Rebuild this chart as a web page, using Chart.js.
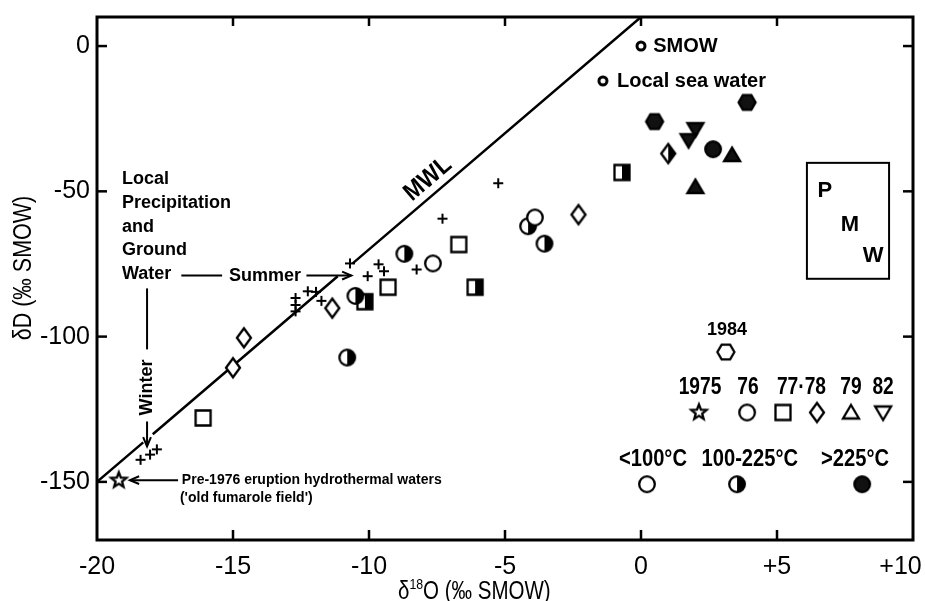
<!DOCTYPE html>
<html>
<head>
<meta charset="utf-8">
<script src="https://cdn.jsdelivr.net/npm/chart.js@4"></script>
<style>
  html, body { margin: 0; padding: 0; background: #fff; }
</style>
</head>
<body>
<canvas id="chart" width="925" height="601"></canvas>
<script>
// δ18O / δD pairs, grouped by sampling year and discharge temperature
const star75X = [-19.2];
const star75Y = [-149.5];

const circ76ColdX = [-3.9, -7.65];
const circ76ColdY = [-59, -74.8];
const circ76WarmX = [-4.15, -3.55, -8.7, -10.5, -10.8];
const circ76WarmY = [-62, -68, -71.5, -86, -107.2];
const circ76HotX = [2.65];
const circ76HotY = [-35.5];

const sq77ColdX = [-6.7, -9.3, -16.1];
const sq77ColdY = [-68.3, -83, -128];
const sq77WarmX = [-6.1, -10.15, -0.7];
const sq77WarmY = [-83, -88, -43.5];

const dia78ColdX = [-2.3, -11.35, -14.6, -15.0];
const dia78ColdY = [-58, -90.2, -100.4, -110.7];
const dia78WarmX = [1.0];
const dia78WarmY = [-37];

const tri79HotX = [3.35, 2.0];
const tri79HotY = [-37.5, -48.5];

const tri82HotX = [2.0, 1.75];
const tri82HotY = [-28.6, -32.4];

const hex84HotX = [0.5, 3.9];
const hex84HotY = [-26, -19.4];

// local precipitation and ground water
const precipX = [-5.25, -7.3, -8.25, -9.65, -9.45, -10.05, -10.7, -12.25, -11.95, -11.75, -12.7, -12.7, -12.7, -18.4, -18.05, -17.8];
const precipY = [-47.2, -59.4, -76.9, -75.1, -77.5, -79.2, -74.8, -84.4, -84.6, -87.7, -86.7, -89.1, -91.3, -142.4, -140.6, -138.8];

// reference waters
const smowX = [0];
const smowY = [0];
const seaX = [-1.4];
const seaY = [-12];

// meteoric water line, broken where labels cross it
const mwlX = [-20, -18.3, -18.1, -17.95, -11.15, -10.9, -10.6, 0];
const mwlY = [-150, -136.4, null, -133.6, -79.2, null, -74.8, 10];

const xTicks = ['-20', '-15', '-10', '-5', '0', '+5', '+10'];
const yTicks = ['-150', '-100', '-50', '0'];

const FONT = '"Liberation Sans", Arial, sans-serif';

function pts(xs, ys) {
  return xs.map((v, i) => ({ x: v, y: ys[i] }));
}

// small canvases used as point styles
function marker(shape, fill) {
  const S = 26;
  const c = document.createElement('canvas');
  c.width = S; c.height = S;
  const g = c.getContext('2d');
  g.translate(S / 2, S / 2);
  g.strokeStyle = '#000';
  g.lineWidth = 2.3;
  g.lineJoin = 'miter';
  const path = () => {
    g.beginPath();
    if (shape === 'circle') g.arc(0, 0, 7.8, 0, Math.PI * 2);
    else if (shape === 'dot') g.arc(0, 0, 4, 0, Math.PI * 2);
    else if (shape === 'square') g.rect(-7.5, -7.5, 15, 15);
    else if (shape === 'diamond') { g.moveTo(0, -9.5); g.lineTo(7, 0); g.lineTo(0, 9.5); g.lineTo(-7, 0); g.closePath(); }
    else if (shape === 'triUp') { g.moveTo(0, -7.5); g.lineTo(8, 6); g.lineTo(-8, 6); g.closePath(); }
    else if (shape === 'triDown') { g.moveTo(0, 7.5); g.lineTo(8, -6); g.lineTo(-8, -6); g.closePath(); }
    else if (shape === 'hexagon') {
      for (let k = 0; k < 6; k++) {
        const a = k * Math.PI / 3;
        k ? g.lineTo(8.5 * Math.cos(a), 8.5 * Math.sin(a)) : g.moveTo(8.5, 0);
      }
      g.closePath();
    } else if (shape === 'star') {
      for (let k = 0; k < 10; k++) {
        const r = k % 2 ? 3.4 : 8;
        const a = -Math.PI / 2 + k * Math.PI / 5;
        k ? g.lineTo(r * Math.cos(a), r * Math.sin(a)) : g.moveTo(r * Math.cos(a), r * Math.sin(a));
      }
      g.closePath();
    }
  };
  if (shape === 'plus') {
    g.lineWidth = 2;
    g.beginPath();
    g.moveTo(-5, 0); g.lineTo(5, 0);
    g.moveTo(0, -5); g.lineTo(0, 5);
    g.stroke();
    return c;
  }
  if (shape === 'dot') g.lineWidth = 3;
  g.fillStyle = fill === 'full' ? '#111' : '#fff';
  path(); g.fill();
  if (fill === 'half') {
    g.save();
    g.beginPath(); g.rect(0, -S / 2, S / 2, S); g.clip();
    g.fillStyle = '#000';
    path(); g.fill();
    g.restore();
  }
  path(); g.stroke();
  return c;
}

function pointSet(label, xs, ys, shape, fill) {
  return {
    label,
    data: pts(xs, ys),
    pointStyle: marker(shape, fill),
    pointRadius: 9,
    pointHoverRadius: 9,
    order: 1
  };
}

function text(ctx, s, x, y, o) {
  ctx.save();
  ctx.translate(x, y);
  if (o.rot) ctx.rotate(o.rot);
  if (o.sx) ctx.scale(o.sx, 1);
  ctx.font = (o.bold ? 'bold ' : '') + o.size + 'px ' + FONT;
  ctx.textAlign = o.align || 'left';
  ctx.textBaseline = 'middle';
  ctx.fillStyle = '#000';
  ctx.fillText(s, 0, 0);
  ctx.restore();
}

function seg(ctx, x1, y1, x2, y2) {
  ctx.beginPath();
  ctx.moveTo(x1, y1);
  ctx.lineTo(x2, y2);
  ctx.stroke();
}

function arrow(ctx, x1, y1, x2, y2) {
  seg(ctx, x1, y1, x2, y2);
  const a = Math.atan2(y2 - y1, x2 - x1);
  ctx.beginPath();
  ctx.moveTo(x2 - 10 * Math.cos(a - 0.4), y2 - 10 * Math.sin(a - 0.4));
  ctx.lineTo(x2, y2);
  ctx.lineTo(x2 - 10 * Math.cos(a + 0.4), y2 - 10 * Math.sin(a + 0.4));
  ctx.stroke();
}

const annotations = {
  id: 'annotations',
  afterDraw(chart) {
    const { ctx, chartArea: ca, scales: { x, y } } = chart;
    const X = v => x.getPixelForValue(v);
    const Y = v => y.getPixelForValue(v);
    ctx.save();
    ctx.strokeStyle = '#000';
    ctx.lineCap = 'butt';

    // frame with inward ticks
    ctx.lineWidth = 3;
    ctx.strokeRect(ca.left, ca.top, ca.right - ca.left, ca.bottom - ca.top);
    ctx.lineWidth = 2.5;
    x.ticks.forEach(t => {
      if (t.value <= x.min || t.value >= x.max) return;
      const p = X(t.value);
      seg(ctx, p, ca.bottom, p, ca.bottom - 10);
      seg(ctx, p, ca.top, p, ca.top + 9);
    });
    y.ticks.forEach(t => {
      const p = Y(t.value);
      seg(ctx, ca.left, p, ca.left + 10, p);
      seg(ctx, ca.right, p, ca.right - 10, p);
    });

    // axis titles
    text(ctx, 'δD (‰ SMOW)', 24, 268, { size: 25, rot: -Math.PI / 2, align: 'center', sx: 0.86 });
    ctx.save();
    ctx.translate(398, 592);
    ctx.scale(0.82, 1);
    ctx.font = '25px ' + FONT;
    ctx.textBaseline = 'middle';
    ctx.fillStyle = '#000';
    ctx.fillText('δ', 0, 0);
    let w = ctx.measureText('δ').width;
    ctx.font = '15px ' + FONT;
    ctx.fillText('18', w, -7);
    w += ctx.measureText('18').width;
    ctx.font = '25px ' + FONT;
    ctx.fillText('O (‰ SMOW)', w, 0);
    ctx.restore();

    // meteoric water line label
    const ang = Math.atan2(Y(10) - Y(-150), X(0) - X(-20));
    text(ctx, 'MWL', X(-7.83), Y(-45.8), { size: 25, bold: true, rot: ang, align: 'center', sx: 0.9 });

    // precipitation block
    const lx = X(-19.08);
    ['Local', 'Precipitation', 'and', 'Ground', 'Water'].forEach((s, i) => {
      text(ctx, s, lx, Y(-45.8) + i * 23.8, { size: 18, bold: true });
    });
    const sy = Y(-79);
    ctx.lineWidth = 2;
    seg(ctx, X(-16.9), sy, X(-15.4), sy);
    text(ctx, 'Summer', X(-13.82), sy, { size: 18, bold: true, align: 'center' });
    arrow(ctx, X(-12.3), sy, X(-10.65), sy);
    const wx = X(-18.16);
    seg(ctx, wx, Y(-83.4), wx, Y(-104.4));
    text(ctx, 'Winter', wx, Y(-117.5), { size: 18, bold: true, rot: -Math.PI / 2, align: 'center' });
    arrow(ctx, wx, Y(-129.2), wx, Y(-137.8));

    // pre-1976 hydrothermal water
    const py = Y(-149.4);
    arrow(ctx, X(-17.02), py, X(-18.79), py);
    text(ctx, 'Pre-1976 eruption hydrothermal waters', X(-16.88), py, { size: 14, bold: true });
    text(ctx, "('old fumarole field')", X(-16.95), py + 18, { size: 14, bold: true });

    // reference waters
    text(ctx, 'SMOW', X(0.45), Y(0), { size: 20, bold: true });
    text(ctx, 'Local sea water', X(-0.88), Y(-12.1), { size: 20, bold: true });

    // P-M-W box
    ctx.lineWidth = 2;
    ctx.strokeRect(X(6.1), Y(-40.2), X(9.12) - X(6.1), Y(-80.1) - Y(-40.2));
    text(ctx, 'P', X(6.76), Y(-49.9), { size: 22, bold: true, align: 'center' });
    text(ctx, 'M', X(7.68), Y(-61.7), { size: 22, bold: true, align: 'center' });
    text(ctx, 'W', X(8.53), Y(-72.1), { size: 22, bold: true, align: 'center' });

    // key: years
    const icon = (shape, fill, px, py2) => {
      const m = marker(shape, fill);
      ctx.drawImage(m, px - m.width / 2, py2 - m.height / 2);
    };
    text(ctx, '1984', X(3.16), Y(-97.8), { size: 18, bold: true, align: 'center' });
    icon('hexagon', 'open', X(3.12), Y(-105.3));
    const ky = Y(-117.5);
    const iy = Y(-126.1);
    [['1975', 2.17], ['76', 3.93], ['77·78', 5.9], ['79', 7.72], ['82', 8.9]].forEach(([s, v]) => {
      text(ctx, s, X(v), ky, { size: 24, bold: true, align: 'center', sx: 0.8 });
    });
    [['star', 2.13], ['circle', 3.9], ['square', 5.22], ['diamond', 6.47], ['triUp', 7.72], ['triDown', 8.9]].forEach(([s, v]) => {
      icon(s, 'open', X(v), iy);
    });

    // key: discharge temperature
    const ty = Y(-142.2);
    const tiy = Y(-150.8);
    [['<100°C', 0.44], ['100-225°C', 4.0], ['>225°C', 7.87]].forEach(([s, v]) => {
      text(ctx, s, X(v), ty, { size: 24, bold: true, align: 'center', sx: 0.84 });
    });
    icon('circle', 'open', X(0.22), tiy);
    icon('circle', 'half', X(3.53), tiy);
    icon('circle', 'full', X(8.13), tiy);

    ctx.restore();
  }
};

new Chart(document.getElementById('chart'), {
  type: 'scatter',
  data: {
    datasets: [
      {
        label: 'MWL',
        data: pts(mwlX, mwlY),
        showLine: true,
        spanGaps: false,
        borderColor: '#000',
        borderWidth: 2.5,
        pointRadius: 0,
        order: 5
      },
      pointSet('Local precipitation', precipX, precipY, 'plus', 'open'),
      pointSet('SMOW', smowX, smowY, 'dot', 'open'),
      pointSet('Local sea water', seaX, seaY, 'dot', 'open'),
      pointSet('1975', star75X, star75Y, 'star', 'open'),
      pointSet('1976 <100°C', circ76ColdX, circ76ColdY, 'circle', 'open'),
      pointSet('1976 100-225°C', circ76WarmX, circ76WarmY, 'circle', 'half'),
      pointSet('1976 >225°C', circ76HotX, circ76HotY, 'circle', 'full'),
      pointSet('1977 <100°C', sq77ColdX, sq77ColdY, 'square', 'open'),
      pointSet('1977 100-225°C', sq77WarmX, sq77WarmY, 'square', 'half'),
      pointSet('1978 <100°C', dia78ColdX, dia78ColdY, 'diamond', 'open'),
      pointSet('1978 100-225°C', dia78WarmX, dia78WarmY, 'diamond', 'half'),
      pointSet('1979 >225°C', tri79HotX, tri79HotY, 'triUp', 'full'),
      pointSet('1982 >225°C', tri82HotX, tri82HotY, 'triDown', 'full'),
      pointSet('1984 >225°C', hex84HotX, hex84HotY, 'hexagon', 'full')
    ]
  },
  options: {
    responsive: false,
    animation: false,
    events: [],
    layout: { padding: { left: 0, right: 12, top: 17, bottom: 0 } },
    plugins: { legend: { display: false }, tooltip: { enabled: false } },
    scales: {
      x: {
        type: 'linear',
        min: -20,
        max: 10,
        afterFit: s => { s.height = 61; s.paddingLeft = 0; s.paddingRight = 0; },
        grid: { display: false, drawTicks: false },
        border: { display: false },
        ticks: {
          stepSize: 5,
          padding: 12,
          maxRotation: 0,
          color: '#000',
          font: { family: FONT, size: 25 },
          callback: v => {
            const i = (v + 20) / 5;
            // the last label is padded so it stays inside the canvas
            return i === xTicks.length - 1 ? xTicks[i] + '\u2002\u2002' : xTicks[i];
          }
        }
      },
      y: {
        type: 'linear',
        min: -170,
        max: 10,
        afterFit: s => { s.width = 97; s.paddingTop = 0; s.paddingBottom = 0; },
        grid: { display: false, drawTicks: false },
        border: { display: false },
        ticks: {
          stepSize: 50,
          includeBounds: false,
          padding: 7,
          color: '#000',
          font: { family: FONT, size: 25 },
          callback: v => {
            const i = (v + 150) / 50;
            return Number.isInteger(i) ? yTicks[i] : null;
          }
        }
      }
    }
  },
  plugins: [annotations]
});
</script>
</body>
</html>
